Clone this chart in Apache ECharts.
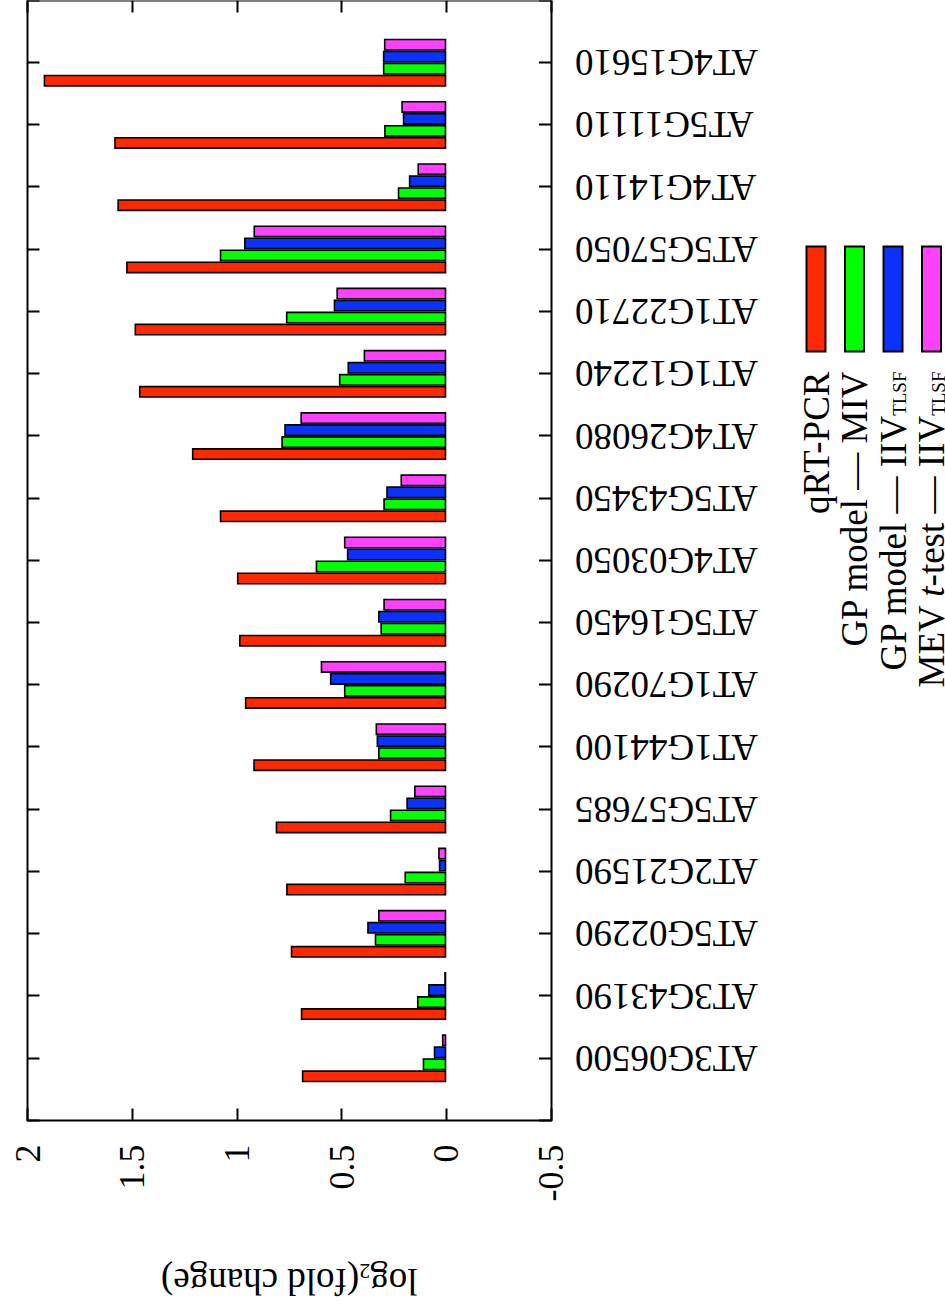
<!DOCTYPE html>
<html><head><meta charset="utf-8">
<script src="https://cdn.jsdelivr.net/npm/echarts@6/dist/echarts.min.js"></script>
<style>
html,body{margin:0;padding:0;width:945px;height:1310px;overflow:hidden;background:#fff;}
#chart{position:absolute;width:1310px;height:945px;left:-182.5px;top:182.5px;transform:rotate(-90deg);transform-origin:50% 50%;}
</style></head><body><div id="chart"></div>
<script>
const categories = ['AT3G06500','AT3G43190','AT5G02290','AT2G21590','AT5G57685','AT1G44100','AT1G70290','AT5G16450','AT4G03050','AT5G43450','AT4G26080','AT1G12240','AT1G22710','AT5G57050','AT4G14110','AT5G11110','AT4G15610'];
const seriesNames = ['qRT-PCR','GP model — MIV','GP model — IIV_TLSF','MEV t-test — IIV_TLSF'];
const qrtPcr = [0.690,0.695,0.743,0.765,0.815,0.922,0.962,0.990,1.000,1.082,1.215,1.468,1.489,1.529,1.571,1.586,1.923];
const gpMIV  = [0.113,0.140,0.342,0.200,0.270,0.326,0.489,0.315,0.624,0.301,0.788,0.513,0.766,1.082,0.232,0.297,0.303];
const gpIIV  = [0.060,0.087,0.378,0.036,0.191,0.333,0.556,0.326,0.475,0.287,0.774,0.472,0.538,0.966,0.179,0.208,0.303];
const mevIIV = [0.021,0.010,0.326,0.039,0.154,0.338,0.600,0.301,0.489,0.219,0.697,0.395,0.525,0.921,0.138,0.215,0.298];
const valueTickLabels = ['-0.5','0','0.5','1','1.5','2'];
const colors = ['#ff2800','#00ff00','#0a32ff','#ff40ff'];

const FONT = 'Liberation Serif';
const padCats = [''].concat(categories, ['']);
const pad = a => [null].concat(a, [null]);
const allValues = [qrtPcr, gpMIV, gpIIV, mevIIV];

const legendLabels = {
  'qRT-PCR': 'qRT-PCR',
  'GP model — MIV': 'GP model — MIV',
  'GP model — IIV_TLSF': 'GP model — IIV{sub|TLSF}',
  'MEV t-test — IIV_TLSF': 'MEV {it|t}-test — IIV{sub|TLSF}'
};

const frameLine = {show:true, onZero:false, lineStyle:{color:'#000', width:2}};
const tick = {show:true, inside:true, length:12, interval:0, lineStyle:{color:'#000', width:2}};

const chart = echarts.init(document.getElementById('chart'), null, {renderer:'svg'});
chart.setOption({
  animation:false,
  backgroundColor:'#fff',
  grid:{left:190, right:-1, top:27, bottom:394.5, containLabel:false},
  legend:{
    orient:'vertical', right:245, top:796.5, height:300, padding:0,
    itemWidth:105, itemHeight:19, itemGap:0.5, align:'right', icon:'rect',
    selectedMode:false,
    data: seriesNames,
    formatter: n => legendLabels[n],
    textStyle:{fontSize:37, fontFamily:FONT, color:'#000', lineHeight:38, padding:[0,15,0,0],
      rich:{
        sub:{fontSize:19, fontFamily:FONT, color:'#000', verticalAlign:'bottom', lineHeight:38, padding:[0,0,3,0]},
        it:{fontSize:37, fontFamily:FONT, color:'#000', fontStyle:'italic', lineHeight:38}
      }}
  },
  xAxis:[
    {type:'category', data:padCats, boundaryGap:false, position:'bottom',
     axisLine:frameLine, axisTick:tick,
     axisLabel:{rotate:90, interval:0, margin:24, fontSize:37, fontFamily:FONT, color:'#000'},
     splitLine:{show:false}},
    {type:'category', data:padCats, boundaryGap:false, position:'top',
     axisLine:frameLine, axisTick:tick, axisLabel:{show:false}, splitLine:{show:false}}
  ],
  yAxis:[
    {type:'value', min:-0.5, max:2, interval:0.5, position:'left',
     axisLine:frameLine, axisTick:tick,
     axisLabel:{margin:24, fontSize:36, fontFamily:FONT, color:'#000',
       formatter: v => valueTickLabels[Math.round((v + 0.5) / 0.5)]},
     splitLine:{show:false},
     name:'log{sub|2}(fold change)', nameLocation:'middle', nameRotate:90, nameGap:140,
     nameTextStyle:{fontSize:37, fontFamily:FONT, color:'#000', lineHeight:42,
       rich:{sub:{fontSize:22, fontFamily:FONT, color:'#000', verticalAlign:'bottom', lineHeight:42}}}},
    {type:'value', min:-0.5, max:2, interval:0.5, position:'right',
     axisLine:frameLine, axisTick:tick, axisLabel:{show:false}, splitLine:{show:false}}
  ],
  series: seriesNames.map((name, i) => ({
    name, type:'bar', xAxisIndex:0, yAxisIndex:0,
    data: pad(allValues[i]),
    barWidth:12, barGap:'0%',
    itemStyle:{color:colors[i], borderColor:'#000', borderWidth:1.6},
    emphasis:{disabled:true}
  }))
});
</script></body></html>
